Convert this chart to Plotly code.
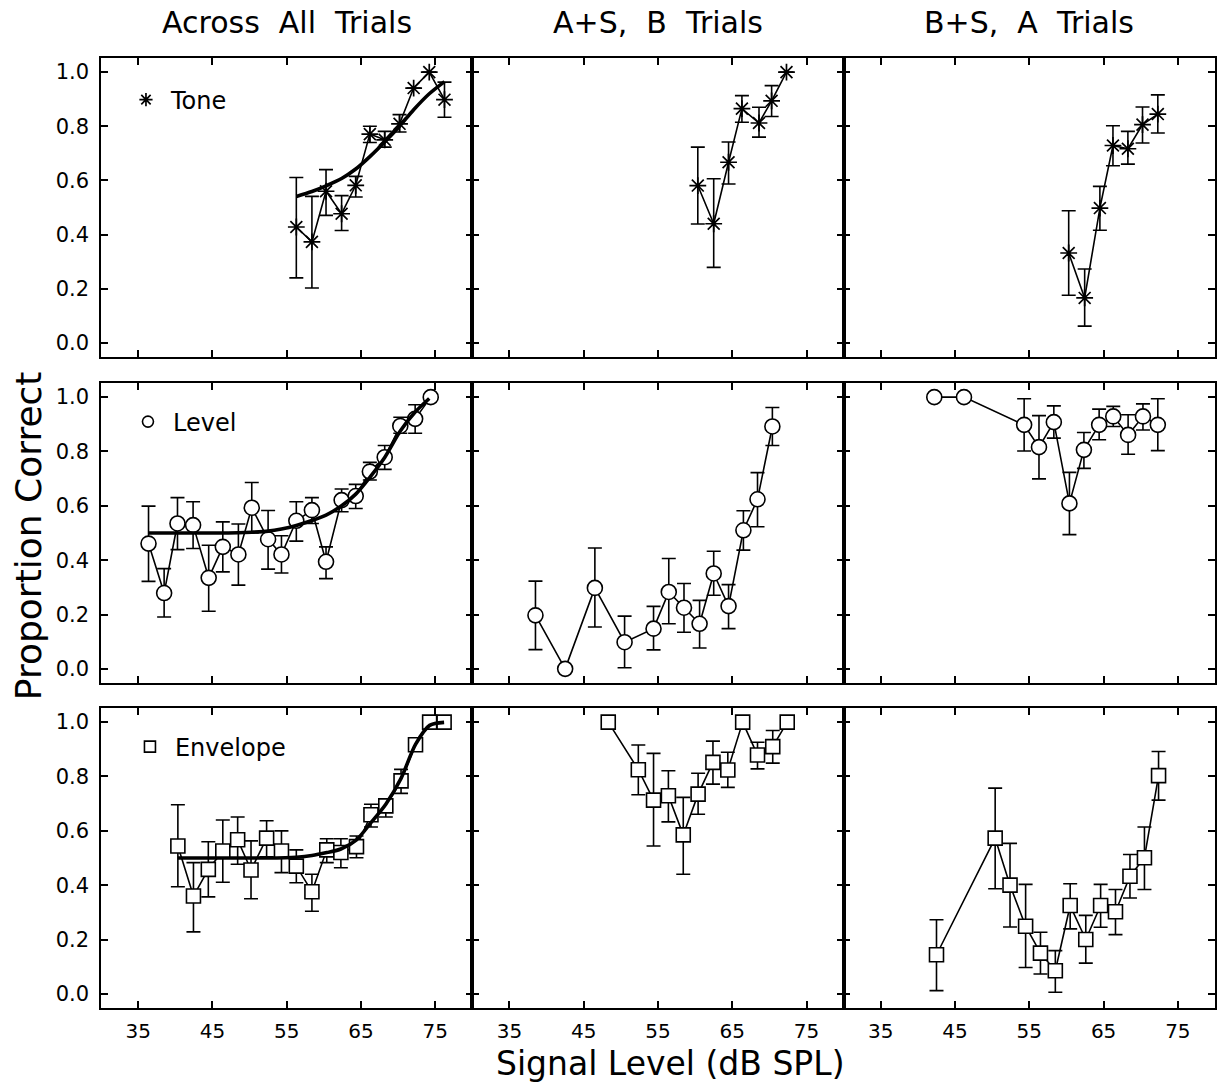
import plotly.graph_objects as go

# ---------------- data ----------------
# Tone
tone_all_x = [56.3, 58.4, 60.3, 62.4, 64.3, 66.2, 68.2, 70.2, 72.1, 74.2, 76.25]
tone_all_y = [0.428, 0.373, 0.560, 0.477, 0.582, 0.771, 0.750, 0.809, 0.941, 1.0, 0.898]
tone_all_hi = [0.611, 0.541, 0.640, 0.544, 0.615, 0.800, 0.781, 0.843, None, None, 0.963]
tone_all_lo = [0.240, 0.203, 0.471, 0.415, 0.539, 0.740, 0.723, 0.779, None, None, 0.833]
tone_fit_x = [56.3, 58.4, 60.3, 62.4, 64.3, 66.2, 68.2, 70.2, 72.1, 74.2, 76.25]
tone_fit_y = [0.541, 0.559, 0.580, 0.607, 0.642, 0.688, 0.742, 0.800, 0.861, 0.920, 0.965]

tone_asb_x = [60.36, 62.5, 64.5, 66.3, 68.6, 70.3, 72.3]
tone_asb_y = [0.581, 0.440, 0.667, 0.865, 0.812, 0.894, 1.0]
tone_asb_hi = [0.723, 0.606, 0.742, 0.913, 0.870, 0.950, None]
tone_asb_lo = [0.439, 0.279, 0.587, 0.815, 0.760, 0.836, None]

tone_bsa_x = [60.3, 62.45, 64.5, 66.26, 68.27, 70.24, 72.3]
tone_bsa_y = [0.332, 0.166, 0.498, 0.729, 0.717, 0.806, 0.845]
tone_bsa_hi = [0.488, 0.273, 0.578, 0.802, 0.781, 0.871, 0.916]
tone_bsa_lo = [0.176, 0.062, 0.416, 0.654, 0.660, 0.738, 0.775]

# Level
level_all_x = [36.4, 38.5, 40.3, 42.4, 44.5, 46.4, 48.5, 50.3, 52.5, 54.3,
               56.3, 58.4, 60.3, 62.4, 64.3, 66.2, 68.2, 70.3, 72.3, 74.4]
level_all_y = [0.461, 0.279, 0.535, 0.529, 0.335, 0.449, 0.421, 0.593, 0.477, 0.421,
               0.545, 0.584, 0.394, 0.621, 0.636, 0.726, 0.779, 0.894, 0.920, 1.0]
level_all_hi = [0.599, 0.369, 0.630, 0.615, 0.455, 0.541, 0.533, 0.686, 0.583, 0.490,
                0.615, 0.630, 0.449, 0.662, 0.679, 0.760, 0.822, 0.926, 0.972, None]
level_all_lo = [0.322, 0.191, 0.439, 0.443, 0.212, 0.357, 0.308, 0.500, 0.367, 0.353,
                0.470, 0.535, 0.332, 0.578, 0.590, 0.695, 0.734, 0.867, 0.867, None]
level_fit_x = [36.4, 40.3, 44.5, 48.5, 50.3, 52.5, 54.3, 56.3, 58.4, 60.3,
               62.4, 64.3, 66.2, 68.2, 70.3, 72.3, 74.2]
level_fit_y = [0.500, 0.500, 0.500, 0.501, 0.503, 0.507, 0.515, 0.528, 0.546, 0.566,
               0.600, 0.643, 0.705, 0.778, 0.875, 0.945, 0.995]

level_asb_x = [38.5, 42.5, 46.5, 50.5, 54.4, 56.45, 58.5, 60.6, 62.5, 64.5, 66.5, 68.4, 70.4]
level_asb_y = [0.197, 0.0, 0.298, 0.098, 0.148, 0.283, 0.225, 0.166, 0.351, 0.231, 0.510, 0.624, 0.892]
level_asb_hi = [0.323, None, 0.445, 0.194, 0.230, 0.406, 0.314, 0.252, 0.433, 0.310, 0.582, 0.722, 0.962]
level_asb_lo = [0.071, None, 0.154, 0.004, 0.070, 0.166, 0.135, 0.077, 0.271, 0.148, 0.437, 0.523, 0.822]

level_bsa_x = [42.2, 46.2, 54.3, 56.3, 58.3, 60.4, 62.35, 64.4, 66.3, 68.3, 70.3, 72.3]
level_bsa_y = [1.0, 1.0, 0.898, 0.816, 0.908, 0.609, 0.806, 0.898, 0.929, 0.861, 0.929, 0.898]
level_bsa_hi = [None, None, 0.994, 0.932, 0.968, 0.723, 0.870, 0.956, 0.966, 0.935, 0.975, 0.994]
level_bsa_lo = [None, None, 0.802, 0.699, 0.849, 0.494, 0.738, 0.843, 0.892, 0.790, 0.879, 0.803]

# Envelope
env_all_x = [40.35, 42.45, 44.45, 46.4, 48.4, 50.2, 52.3, 54.3, 56.3, 58.4,
             60.4, 62.3, 64.4, 66.35, 68.35, 70.4, 72.35, 74.25, 76.2]
env_all_y = [0.544, 0.360, 0.458, 0.526, 0.567, 0.456, 0.573, 0.526, 0.470, 0.376,
             0.530, 0.520, 0.542, 0.659, 0.692, 0.784, 0.917, 1.0, 1.0]
env_all_hi = [0.696, 0.483, 0.560, 0.640, 0.651, 0.563, 0.637, 0.600, 0.530, 0.440,
              0.571, 0.571, 0.581, 0.698, 0.711, 0.826, None, None, None]
env_all_lo = [0.394, 0.228, 0.357, 0.411, 0.477, 0.350, 0.504, 0.446, 0.409, 0.304,
              0.483, 0.464, 0.501, 0.614, 0.651, 0.738, None, None, None]
env_fit_x = [40.35, 44.45, 48.4, 52.3, 56.3, 58.4, 60.4, 62.3, 64.4, 66.35,
             68.35, 70.4, 72.35, 74.25, 76.2]
env_fit_y = [0.500, 0.500, 0.500, 0.500, 0.503, 0.509, 0.520, 0.533, 0.567, 0.630,
             0.698, 0.793, 0.918, 0.988, 0.999]

env_asb_x = [48.3, 52.35, 54.4, 56.4, 58.4, 60.4, 62.4, 64.4, 66.4, 68.4, 70.45, 72.4]
env_asb_y = [1.0, 0.825, 0.713, 0.729, 0.585, 0.735, 0.852, 0.824, 1.0, 0.879, 0.910, 1.0]
env_asb_hi = [None, 0.916, 0.885, 0.821, 0.723, 0.812, 0.930, 0.889, None, 0.926, 0.969, None]
env_asb_lo = [None, 0.733, 0.544, 0.633, 0.440, 0.661, 0.772, 0.760, None, 0.828, 0.849, None]

env_bsa_x = [42.5, 50.4, 52.4, 54.5, 56.5, 58.5, 60.5, 62.6, 64.6, 66.6, 68.55, 70.5, 72.4]
env_bsa_y = [0.144, 0.573, 0.400, 0.249, 0.150, 0.085, 0.325, 0.200, 0.325, 0.302, 0.433, 0.501, 0.803]
env_bsa_hi = [0.273, 0.757, 0.554, 0.403, 0.227, 0.159, 0.405, 0.289, 0.403, 0.384, 0.513, 0.614, 0.892]
env_bsa_lo = [0.012, 0.387, 0.246, 0.097, 0.073, 0.006, 0.239, 0.113, 0.245, 0.218, 0.353, 0.384, 0.713]

col_titles = ["Across\u00a0\u00a0All\u00a0\u00a0Trials", "A+S,\u00a0\u00a0B\u00a0\u00a0Trials",
              "B+S,\u00a0\u00a0A\u00a0\u00a0Trials"]
row_names = ["Tone", "Level", "Envelope"]
x_ticks = [35, 45, 55, 65, 75]
y_ticks = [0.0, 0.2, 0.4, 0.6, 0.8, 1.0]
x_title = "Signal\u00a0Level\u00a0(dB\u00a0SPL)"
y_title = "Proportion\u00a0Correct"

# ---------------- figure ----------------
FONT = "DejaVu Sans, Verdana, sans-serif"
W, H = 1219, 1084
ML, MR, MT, MB = 101, 2, 58, 76
PW, PH = W - ML - MR, H - MT - MB


def ypaper(py):
    return (H - MB - py) / PH


def xpaper(px):
    return (px - ML) / PW


col_dom = [[0, 1 / 3], [1 / 3, 2 / 3], [2 / 3, 1]]
row_dom = [[ypaper(357), 1.0], [ypaper(683), ypaper(383)], [0.0, ypaper(708)]]

markers = [
    dict(symbol="asterisk-open", size=14, color="black", line=dict(color="black", width=1.7)),
    dict(symbol="circle", size=15, color="white", line=dict(color="black", width=1.6)),
    dict(symbol="square", size=14, color="white", line=dict(color="black", width=1.6)),
]

panels = [
    [(tone_all_x, tone_all_y, tone_all_hi, tone_all_lo, tone_fit_x, tone_fit_y),
     (tone_asb_x, tone_asb_y, tone_asb_hi, tone_asb_lo, None, None),
     (tone_bsa_x, tone_bsa_y, tone_bsa_hi, tone_bsa_lo, None, None)],
    [(level_all_x, level_all_y, level_all_hi, level_all_lo, level_fit_x, level_fit_y),
     (level_asb_x, level_asb_y, level_asb_hi, level_asb_lo, None, None),
     (level_bsa_x, level_bsa_y, level_bsa_hi, level_bsa_lo, None, None)],
    [(env_all_x, env_all_y, env_all_hi, env_all_lo, env_fit_x, env_fit_y),
     (env_asb_x, env_asb_y, env_asb_hi, env_asb_lo, None, None),
     (env_bsa_x, env_bsa_y, env_bsa_hi, env_bsa_lo, None, None)],
]

fig = go.Figure()
layout = dict(
    width=W, height=H,
    margin=dict(l=ML, r=MR, t=MT, b=MB),
    paper_bgcolor="white", plot_bgcolor="white",
    font=dict(family=FONT, color="black"),
    showlegend=True,
)

legend_keys = ["legend", "legend2", "legend3"]
legend_pos = [(145, 100), (147, 422), (149, 747)]

for r in range(3):
    for c in range(3):
        idx = r * 3 + c + 1
        xa = "x" if idx == 1 else f"x{idx}"
        ya = "y" if idx == 1 else f"y{idx}"
        x, y, hi, lo, fx, fy = panels[r][c]
        plus = [None if h is None else h - v for h, v in zip(hi, y)]
        minus = [None if l is None else v - l for l, v in zip(lo, y)]
        fig.add_trace(go.Scatter(
            x=x, y=y, mode="lines+markers", xaxis=xa, yaxis=ya,
            line=dict(color="black", width=1.6),
            marker=markers[r],
            error_y=dict(type="data", symmetric=False, array=plus, arrayminus=minus,
                         color="black", thickness=1.6, width=7),
            showlegend=False, hoverinfo="skip",
        ))
        if fx is not None:
            fig.add_trace(go.Scatter(
                x=fx, y=fy, mode="lines", xaxis=xa, yaxis=ya,
                line=dict(color="black", width=3.6, shape="spline", smoothing=0.8),
                showlegend=False, hoverinfo="skip",
            ))
        if c == 0:
            fig.add_trace(go.Scatter(
                x=[None], y=[None], mode="markers", xaxis=xa, yaxis=ya,
                marker=dict(markers[r], size=11),
                name=row_names[r], legend=legend_keys[r], showlegend=True,
            ))
        axcommon = dict(showline=True, linecolor="black", linewidth=1.5, mirror="ticks",
                        ticks="inside", ticklen=7, tickwidth=2, tickcolor="black",
                        showgrid=False, zeroline=False, fixedrange=True)
        layout["xaxis" if idx == 1 else f"xaxis{idx}"] = dict(
            axcommon, domain=col_dom[c], range=[30, 80], tickvals=x_ticks,
            ticktext=[str(t) for t in x_ticks], showticklabels=(r == 2),
            tickfont=dict(size=20, family=FONT), ticklabelstandoff=4, anchor=ya)
        layout["yaxis" if idx == 1 else f"yaxis{idx}"] = dict(
            axcommon, domain=row_dom[r], range=[-0.052, 1.052], tickvals=y_ticks,
            ticktext=[f"{t:.1f}" for t in y_ticks], showticklabels=(c == 0),
            tickfont=dict(size=21, family=FONT), ticklabelstandoff=6, anchor=xa)

for k, key in enumerate(legend_keys):
    px, py = legend_pos[k]
    layout[key] = dict(x=xpaper(px - 24), y=ypaper(py), xanchor="left", yanchor="middle",
                       bgcolor="rgba(0,0,0,0)", borderwidth=0, itemwidth=40,
                       font=dict(size=24, family=FONT, color="black"),
                       itemclick=False, itemdoubleclick=False)

annotations = []
for c, t in enumerate(col_titles):
    annotations.append(dict(text=t, x=(sum(col_dom[c]) / 2), y=ypaper(22), xref="paper", yref="paper",
                            showarrow=False, font=dict(size=30, family=FONT), xanchor="center",
                            yanchor="middle"))
annotations.append(dict(text=x_title, x=xpaper(672), y=ypaper(1063), xref="paper", yref="paper",
                        showarrow=False, font=dict(size=33, family=FONT), xanchor="center",
                        yanchor="middle"))
annotations.append(dict(text=y_title, x=xpaper(28), y=ypaper(536), xref="paper", yref="paper",
                        showarrow=False, font=dict(size=36, family=FONT), textangle=-90,
                        xanchor="center", yanchor="middle"))
layout["annotations"] = annotations

fig.update_layout(**layout)
fig.write_html("out.html", config={"displayModeBar": False},
               post_script="document.body.style.margin='0px';")
